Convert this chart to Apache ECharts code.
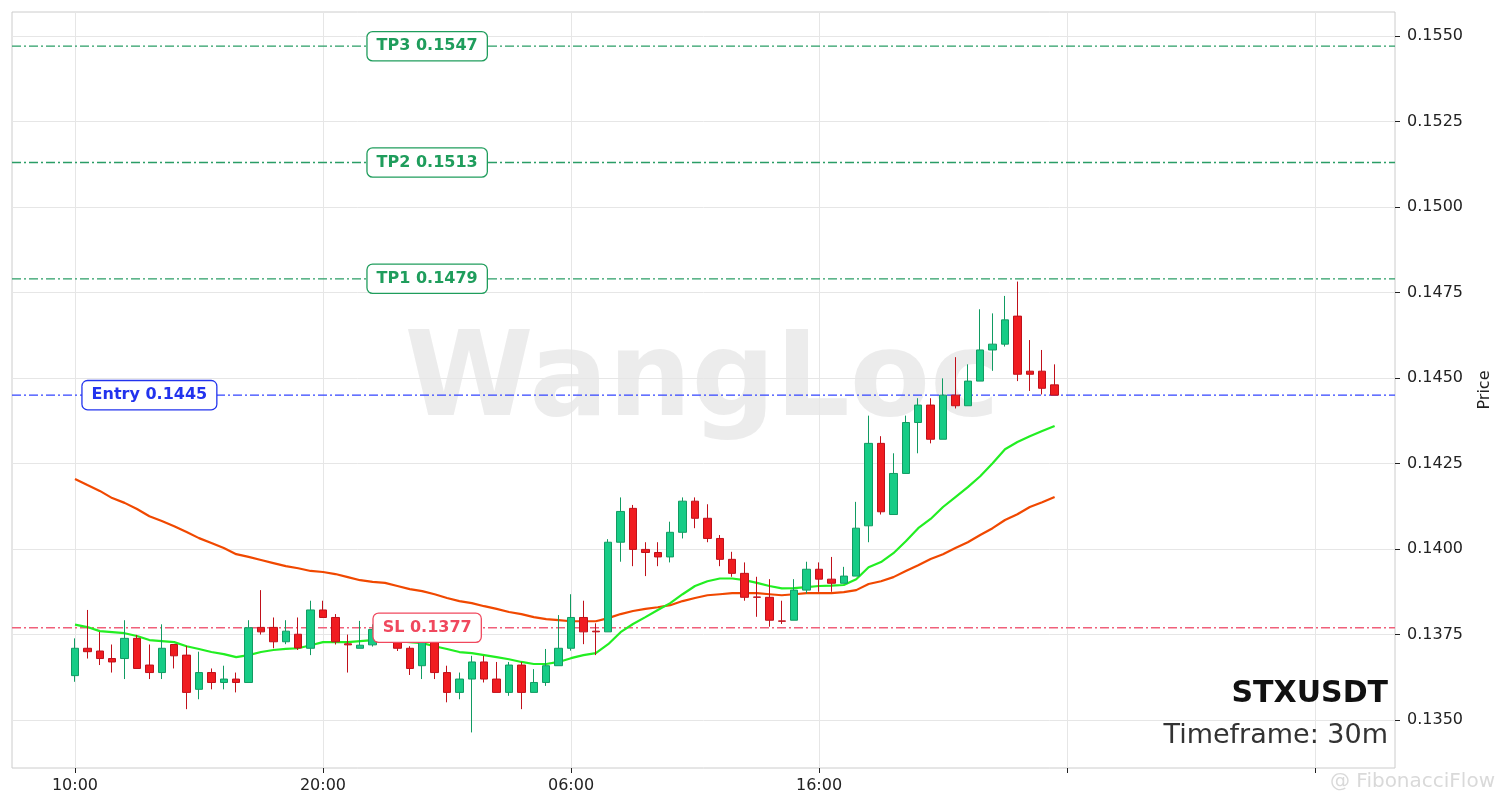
<!DOCTYPE html>
<html>
<head>
<meta charset="utf-8">
<script src="https://cdn.jsdelivr.net/npm/echarts@6/dist/echarts.min.js"></script>
<style>
html,body{margin:0;padding:0;background:#fff;}
#chart{width:1501px;height:808px;}
</style>
</head>
<body>
<div id="chart"></div>
<script>
// ---- Data (30m candles, index 0 = 10:00) ----
const candleOpen = [0.13630,0.13710,0.13702,0.13680,0.13680,0.13739,0.13661,0.13639,0.13721,0.13690,
0.13590,0.13639,0.13610,0.13620,0.13610,0.13771,0.13771,0.13729,0.13751,0.13710,
0.13822,0.13800,0.13723,0.13710,0.13720,0.13765,0.13729,0.13710,0.13659,0.13729,
0.13639,0.13581,0.13620,0.13670,0.13620,0.13581,0.13661,0.13581,0.13610,0.13659,
0.13710,0.13800,0.13760,0.13758,0.14020,0.14119,0.13999,0.13990,0.13977,0.14049,
0.14140,0.14090,0.14031,0.13970,0.13929,0.13860,0.13859,0.13790,0.13792,0.13880,
0.13941,0.13912,0.13900,0.13921,0.14068,0.14309,0.14101,0.14221,0.14370,0.14421,
0.14321,0.14450,0.14419,0.14491,0.14582,0.14599,0.14681,0.14520,0.14520,0.14480];
const candleClose = [0.13710,0.13700,0.13680,0.13670,0.13739,0.13651,0.13639,0.13710,0.13688,0.13581,
0.13639,0.13610,0.13620,0.13610,0.13770,0.13758,0.13729,0.13760,0.13711,0.13822,
0.13800,0.13729,0.13720,0.13719,0.13765,0.13745,0.13710,0.13651,0.13729,0.13639,
0.13581,0.13620,0.13670,0.13620,0.13581,0.13661,0.13581,0.13610,0.13659,0.13710,
0.13800,0.13758,0.13758,0.14020,0.14110,0.13999,0.13990,0.13977,0.14049,0.14140,
0.14090,0.14031,0.13970,0.13929,0.13859,0.13859,0.13792,0.13789,0.13880,0.13941,
0.13912,0.13900,0.13921,0.14061,0.14309,0.14109,0.14221,0.14370,0.14421,0.14321,
0.14450,0.14419,0.14491,0.14582,0.14599,0.14670,0.14511,0.14511,0.14470,0.14450];
const candleLow = [0.13612,0.13680,0.13661,0.13639,0.13620,0.13651,0.13620,0.13620,0.13651,0.13532,
0.13561,0.13590,0.13590,0.13581,0.13610,0.13750,0.13710,0.13722,0.13705,0.13690,
0.13800,0.13721,0.13639,0.13710,0.13715,0.13735,0.13702,0.13632,0.13620,0.13620,
0.13552,0.13561,0.13464,0.13610,0.13581,0.13571,0.13532,0.13581,0.13600,0.13659,
0.13703,0.13722,0.13690,0.13758,0.13963,0.13950,0.13921,0.13950,0.13961,0.14031,
0.14061,0.14020,0.13950,0.13919,0.13849,0.13802,0.13773,0.13781,0.13792,0.13870,
0.13875,0.13875,0.13900,0.13921,0.14020,0.14101,0.14101,0.14221,0.14280,0.14309,
0.14321,0.14411,0.14419,0.14491,0.14521,0.14592,0.14491,0.14462,0.14452,0.14450];
const candleHigh = [0.13739,0.13822,0.13758,0.13721,0.13792,0.13749,0.13721,0.13780,0.13721,0.13717,
0.13700,0.13651,0.13659,0.13639,0.13792,0.13880,0.13800,0.13792,0.13800,0.13849,
0.13849,0.13810,0.13750,0.13790,0.13780,0.13785,0.13750,0.13716,0.13730,0.13735,
0.13659,0.13639,0.13688,0.13688,0.13670,0.13670,0.13670,0.13649,0.13708,0.13807,
0.13868,0.13849,0.13783,0.14029,0.14151,0.14129,0.14020,0.14020,0.14080,0.14151,
0.14151,0.14131,0.14041,0.13992,0.13961,0.13919,0.13912,0.13849,0.13912,0.13963,
0.13961,0.13977,0.13948,0.14138,0.14390,0.14330,0.14280,0.14390,0.14441,0.14441,
0.14499,0.14561,0.14540,0.14701,0.14689,0.14740,0.14782,0.14611,0.14582,0.14540];
// Moving averages
const maFast = [0.13779,0.13772,0.13760,0.13757,0.13754,0.13746,0.13734,0.13731,0.13728,0.13716,
0.13708,0.13699,0.13693,0.13684,0.13690,0.13699,0.13705,0.13708,0.13710,0.13719,
0.13728,0.13728,0.13728,0.13731,0.13734,0.13734,0.13731,0.13728,0.13725,0.13716,
0.13708,0.13699,0.13696,0.13690,0.13684,0.13678,0.13670,0.13664,0.13664,0.13670,
0.13681,0.13690,0.13696,0.13722,0.13757,0.13781,0.13801,0.13822,0.13842,0.13868,
0.13892,0.13906,0.13914,0.13914,0.13909,0.13901,0.13892,0.13885,0.13886,0.13889,
0.13892,0.13893,0.13895,0.13912,0.13947,0.13962,0.13988,0.14023,0.14061,0.14088,
0.14123,0.14152,0.14181,0.14213,0.14251,0.14292,0.14313,0.14330,0.14345,0.14360];
const maSlow = [0.14205,0.14187,0.14170,0.14149,0.14135,0.14117,0.14096,0.14082,0.14067,0.14050,
0.14032,0.14018,0.14003,0.13985,0.13977,0.13968,0.13959,0.13950,0.13944,0.13936,
0.13933,0.13927,0.13918,0.13909,0.13904,0.13901,0.13892,0.13883,0.13877,0.13868,
0.13857,0.13848,0.13842,0.13833,0.13825,0.13816,0.13810,0.13801,0.13795,0.13792,
0.13789,0.13789,0.13789,0.13798,0.13810,0.13819,0.13825,0.13830,0.13836,0.13848,
0.13857,0.13865,0.13868,0.13871,0.13871,0.13871,0.13868,0.13865,0.13868,0.13871,
0.13871,0.13871,0.13874,0.13880,0.13898,0.13906,0.13918,0.13936,0.13953,0.13971,
0.13985,0.14003,0.14020,0.14041,0.14061,0.14085,0.14102,0.14123,0.14137,0.14152];
// Trade levels
const levelNames = ['TP3','TP2','TP1','Entry','SL'];
const levelValues = [0.1547,0.1513,0.1479,0.1445,0.1377];
const levelColors = ['#1f9d5c','#1f9d5c','#1f9d5c','#2233ee','#f0485e'];
const levelLineColors = ['#2a9d66','#2a9d66','#2a9d66','#3344ff','#f0607a'];
const levelLabelAt = [28.4,28.4,28.4,6.0,28.4];
// Axis tick labels
const xTickIdx = [0,20,40,60,80,100];
const xTickLabels = ['10:00','20:00','06:00','16:00','',''];
const yTicks = [0.1350,0.1375,0.1400,0.1425,0.1450,0.1475,0.1500,0.1525,0.1550];
const symbol = 'STXUSDT';
const timeframe = 'Timeframe: 30m';

const X_MIN = -5.08, X_MAX = 106.45;
const FONT = 'DejaVu Sans';

const candleData = candleOpen.map((o,i)=>[i,o,candleClose[i],candleLow[i],candleHigh[i]]);

const series = [];
levelValues.forEach((v,k)=>{
  series.push({
    type:'line', silent:true, symbol:'none', z:3,
    data:[[X_MIN,v],[X_MAX,v]],
    lineStyle:{color:levelLineColors[k],width:1.3,type:[9,3,2,3]},
    markPoint:{
      symbol:'rect', symbolSize:1, silent:true, z:10,
      itemStyle:{color:'rgba(0,0,0,0)'},
      data:[{coord:[levelLabelAt[k],v]}],
      label:{show:true,position:'inside',formatter:levelNames[k]+' '+v.toFixed(4),
        fontFamily:FONT,fontWeight:'bold',fontSize:16,color:levelColors[k],
        backgroundColor:'#ffffff',borderColor:levelColors[k],borderWidth:1.3,borderRadius:5,
        padding:[7,9,5,9]}
    }
  });
});
series.push({
  type:'candlestick', z:5,
  dimensions:['x','open','close','lowest','highest'],
  encode:{x:'x',y:['open','close','lowest','highest']},
  data:candleData, barWidth:8,
  itemStyle:{color:'#17cc86',color0:'#f01c20',borderColor:'#119b62',borderColor0:'#c0101a',borderWidth:1}
});
series.push({type:'line',symbol:'none',z:4,data:maSlow.map((v,i)=>[i,v]),lineStyle:{color:'#f04800',width:2.2}});
series.push({type:'line',symbol:'none',z:4,data:maFast.map((v,i)=>[i,v]),lineStyle:{color:'#22ee22',width:2.2}});

const chart = echarts.init(document.getElementById('chart'),null,{renderer:'canvas'});
chart.setOption({
  animation:false,
  backgroundColor:'#ffffff',
  textStyle:{fontFamily:FONT},
  grid:{left:12,right:106,top:12,bottom:40,show:true,borderColor:'#cccccc',borderWidth:1,backgroundColor:'transparent'},
  xAxis:{type:'value',min:X_MIN,max:X_MAX,position:'bottom',
    axisLine:{show:false,onZero:false},
    axisTick:{show:true,customValues:xTickIdx,length:5,lineStyle:{color:'#222'}},
    axisLabel:{customValues:xTickIdx,formatter:(v)=>{const k=xTickIdx.indexOf(Math.round(v));return k>=0?xTickLabels[k]:'';},
      fontFamily:FONT,fontSize:16,color:'#222',margin:10},
    splitLine:{show:true,lineStyle:{color:'#e6e6e6',width:1}}
  },
  yAxis:{type:'value',position:'right',min:0.1336,max:0.1557,scale:true,
    name:'Price',nameLocation:'middle',nameRotate:90,nameGap:82,
    nameTextStyle:{fontFamily:FONT,fontSize:16,color:'#222'},
    axisLine:{show:false,onZero:false},
    axisTick:{show:true,customValues:yTicks,length:5,lineStyle:{color:'#222'}},
    axisLabel:{customValues:yTicks,formatter:(v)=>v.toFixed(4),fontFamily:FONT,fontSize:16,color:'#222',margin:12},
    splitLine:{show:true,lineStyle:{color:'#e6e6e6',width:1}}
  },
  graphic:[
    {type:'text',z:0,silent:true,
      style:{text:'WangLoc',x:702,y:385,align:'center',verticalAlign:'middle',fontFamily:FONT,fontWeight:'bold',fontSize:117,fill:'rgba(185,185,185,0.28)'}},
    {type:'text',z:20,silent:true,
      style:{text:symbol,x:1388,y:694,align:'right',verticalAlign:'middle',fontFamily:FONT,fontWeight:'bold',fontSize:30,fill:'#111111'}},
    {type:'text',z:20,silent:true,
      style:{text:timeframe,x:1388,y:736,align:'right',verticalAlign:'middle',fontFamily:FONT,fontSize:27,fill:'#333333'}},
    {type:'text',z:20,silent:true,
      style:{text:'@ FibonacciFlow',x:1495,y:782,align:'right',verticalAlign:'middle',fontFamily:FONT,fontSize:20,fill:'rgba(170,170,170,0.45)'}}
  ],
  series:series
});
</script>
</body>
</html>
